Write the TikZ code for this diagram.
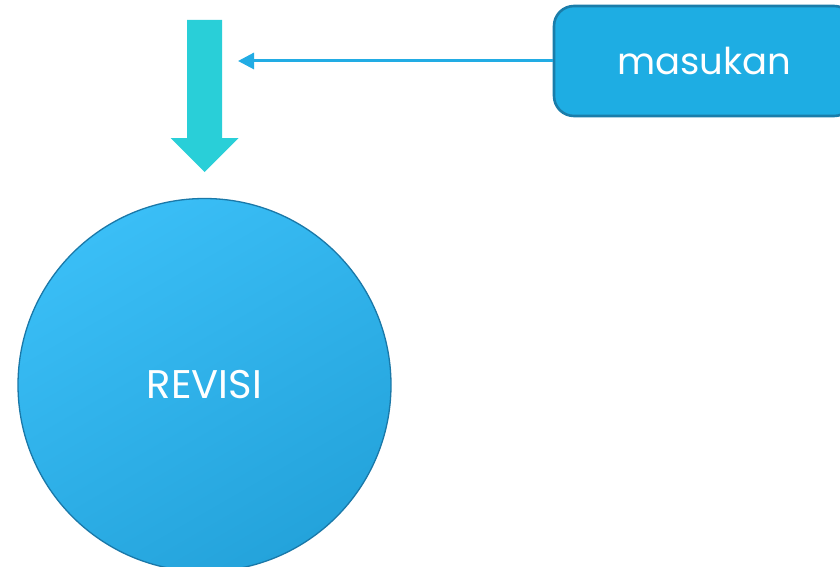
\documentclass[tikz,border=0pt]{standalone}
\usepackage{fontspec}
\setmainfont{Poppins}
\usetikzlibrary{arrows.meta}
\definecolor{turq}{HTML}{29CFD8}
\definecolor{linkblue}{HTML}{22ACE4}
\definecolor{boxfill}{HTML}{1EADE3}
\definecolor{boxedge}{HTML}{1A7DAA}
\definecolor{circtop}{HTML}{3ABEF6}
\definecolor{circbot}{HTML}{24A3DB}
\definecolor{circedge}{HTML}{1A78A8}
\tikzset{
  inbox/.style={draw=boxedge, line width=2.6pt, fill=boxfill, rounded corners=20pt,
    minimum width=300pt, minimum height=110pt, text=white, font=\fontsize{37}{40}\selectfont},
  bigcirc/.style={circle, draw=circedge, line width=1.3pt, minimum size=373pt,
    top color=circtop, bottom color=circbot, shading angle=30, text=white,
    font=\fontsize{40}{44}\selectfont},
  feed/.style={draw=linkblue, line width=3pt, -{Triangle[length=16pt,width=16pt]}},
  blockarrow/.style={fill=turq}
}
\begin{document}
\begin{tikzpicture}[x=1pt,y=-1pt]
\clip (0,0) rectangle (840,567);
\fill[white] (0,0) rectangle (840,567);
% block arrow
\fill[blockarrow] (187,20) -- (222,20) -- (222,138) -- (238.5,138) -- (204.5,172)
  -- (170.5,138) -- (187,138) -- cycle;
\coordinate (tip) at (238,61);
% input box
\node[inbox] (masukan) at (704,61) {masukan};
\draw[feed] (masukan.west) -- (tip);
% circle
\node[bigcirc] (revisi) at (204.5,385) {REVISI};
\end{tikzpicture}
\end{document}
